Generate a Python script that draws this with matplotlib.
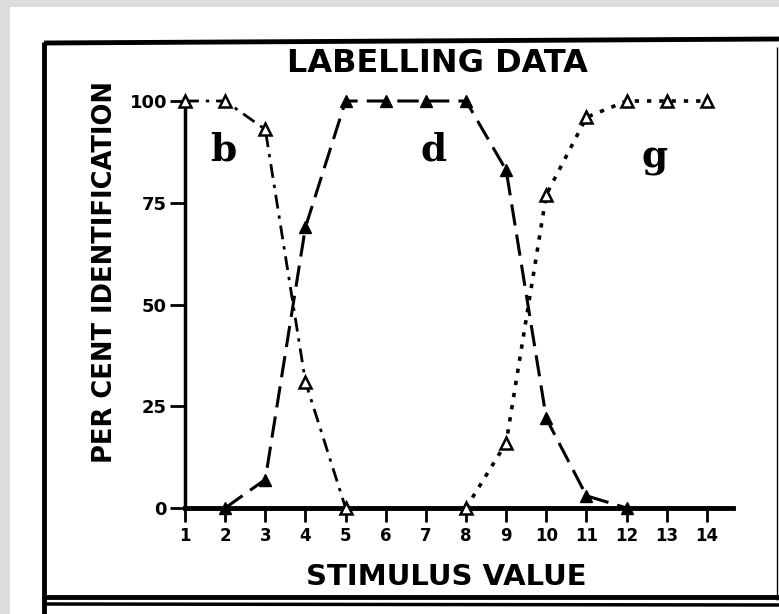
import matplotlib
matplotlib.use("Agg")
import matplotlib.pyplot as plt
from matplotlib.patches import Rectangle
from matplotlib.lines import Line2D

# ---- data ----
stimulus = [1, 2, 3, 4, 5, 6, 7, 8, 9, 10, 11, 12, 13, 14]
x_tick_labels = ["1", "2", "3", "4", "5", "6", "7", "8", "9", "10", "11", "12", "13", "14"]
y_ticks = [0, 25, 50, 75, 100]
b_x = [1, 2, 3, 4, 5]
b_vals = [100, 100, 93, 31, 0]
d_x = [2, 3, 4, 5, 6, 7, 8, 9, 10, 11, 12]
d_vals = [0, 7, 69, 100, 100, 100, 100, 83, 22, 3, 0]
g_x = [8, 9, 10, 11, 12, 13, 14]
g_vals = [0, 16, 77, 96, 100, 100, 100]
labels = ["b", "d", "g"]
label_pos_x = [1.95, 7.2, 12.7]
label_pos_y = [88, 88, 86]

W, H = 779, 614
fig = plt.figure(figsize=(W / 100, H / 100), dpi=100)
fig.patch.set_facecolor("#dcdcdc")

def fx(px):
    return px / W

def fy(py):
    return 1 - py / H

# white paper area
fig.patches.append(Rectangle((fx(10), 0), 1 - fx(10), fy(7), transform=fig.transFigure,
                             facecolor="white", edgecolor="none", zorder=-5))
# frame lines
def fline(x0, y0, x1, y1, lw):
    fig.lines.append(Line2D([fx(x0), fx(x1)], [fy(y0), fy(y1)], transform=fig.transFigure,
                            color="black", linewidth=lw, solid_capstyle="butt", zorder=-4))

fline(44, 43, 779, 39, 3.5)      # top
fline(44, 42, 44, 614, 3.5)      # left
fline(777, 47, 777, 600, 1.0)    # right
fline(44, 597, 779, 597, 3.5)    # bottom double line
fline(44, 604, 779, 605, 2.5)

ax = fig.add_axes([fx(185), fy(508), fx(733) - fx(185), fy(101) - fy(508)])
ax.set_zorder(5)
ax.patch.set_visible(False)
ax.set_xlim(1, 14.65)
ax.set_ylim(0, 100)

for s in ["top", "right"]:
    ax.spines[s].set_visible(False)
ax.spines["left"].set_linewidth(2.5)
ax.spines["bottom"].set_linewidth(3.5)

ax.plot(b_x, b_vals, color="black", linewidth=2.0, linestyle=(0, (5, 2.5, 1.2, 2.5)),
        marker="^", markersize=8, markerfacecolor="white", markeredgecolor="black",
        markeredgewidth=1.8, clip_on=False, zorder=3)
ax.plot(d_x, d_vals, color="black", linewidth=2.2, linestyle=(0, (7, 3)),
        marker="^", markersize=9, markerfacecolor="black", markeredgecolor="black",
        clip_on=False, zorder=3)
ax.plot(g_x, g_vals, color="black", linewidth=2.6, linestyle=(0, (1.2, 2.2)),
        marker="^", markersize=8, markerfacecolor="white", markeredgecolor="black",
        markeredgewidth=1.8, clip_on=False, zorder=3)

ax.set_xticks(stimulus)
ax.set_xticklabels(x_tick_labels, fontsize=12, fontweight="bold")
ax.set_yticks(y_ticks)
ax.set_yticklabels([str(v) for v in y_ticks], fontsize=13, fontweight="bold")
ax.tick_params(axis="x", direction="out", length=10, width=2, pad=4)
ax.tick_params(axis="y", direction="out", length=11, width=2, pad=2)

for lab, lx, ly in zip(labels, label_pos_x, label_pos_y):
    ax.text(lx, ly, lab, fontsize=27, fontweight="bold", family="DejaVu Serif",
            ha="center", va="center")

fig.text(fx(437), fy(63), "LABELLING DATA", fontsize=23, fontweight="bold",
         ha="center", va="center")
fig.text(fx(446), fy(577), "STIMULUS VALUE", fontsize=21, fontweight="bold",
         ha="center", va="center")
fig.text(fx(105), fy(272), "PER CENT IDENTIFICATION", fontsize=18.5, fontweight="bold",
         ha="center", va="center", rotation=90)

fig.savefig("out.png", dpi=100, facecolor=fig.get_facecolor())
